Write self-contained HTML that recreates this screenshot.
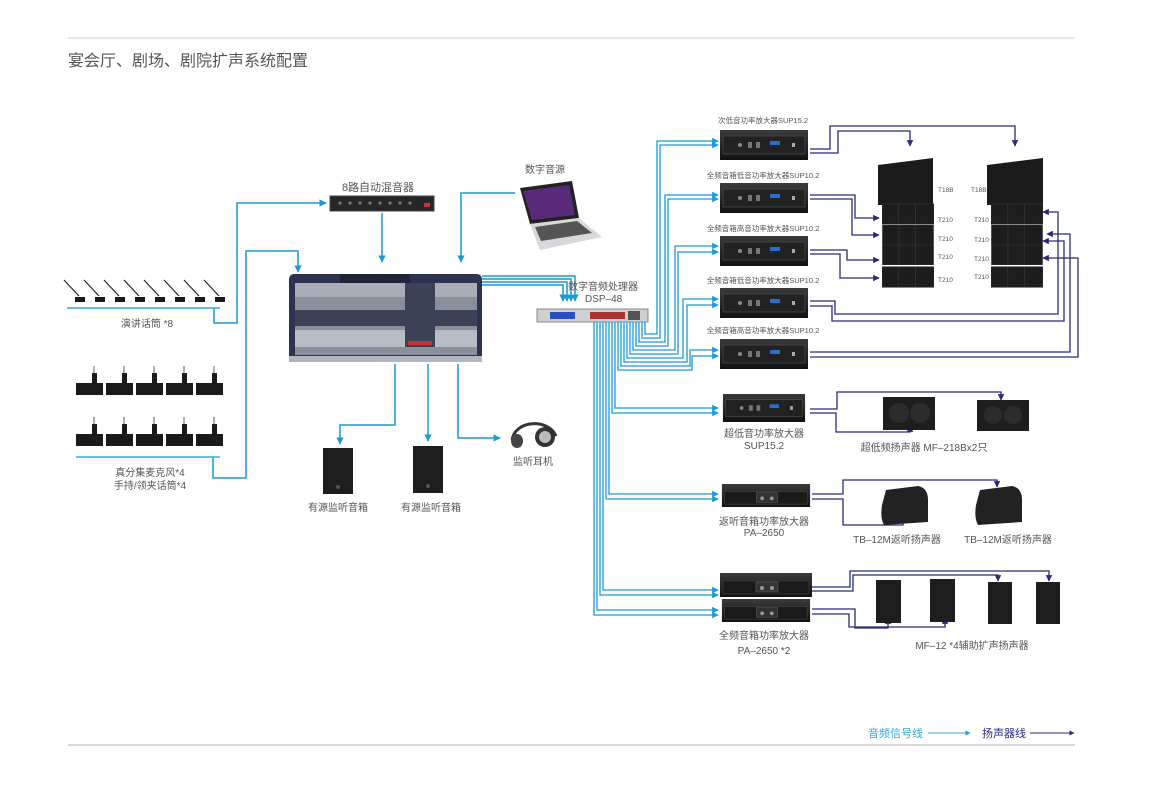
<!DOCTYPE html>
<html><head><meta charset="utf-8"><style>
html,body{margin:0;padding:0;background:#fff;}
svg{display:block;}
text{font-family:"Liberation Sans","Noto Sans CJK SC",sans-serif;fill:#555;}
</style></head><body>
<svg width="1150" height="787" viewBox="0 0 1150 787" xmlns="http://www.w3.org/2000/svg">
<defs>
<marker id="b" viewBox="0 0 10 10" refX="9" refY="5" markerWidth="5" markerHeight="5" orient="auto"><path d="M0,0L10,5L0,10z" fill="#1a9ad6"/></marker>
<marker id="d" viewBox="0 0 10 10" refX="9" refY="5" markerWidth="5" markerHeight="5" orient="auto"><path d="M0,0L10,5L0,10z" fill="#2b2a78"/></marker>
<linearGradient id="ag" x1="0" y1="0" x2="0" y2="1"><stop offset="0" stop-color="#3a3a3a"/><stop offset="1" stop-color="#111"/></linearGradient>
<symbol id="amp" viewBox="0 0 88 30"><rect x="0" y="0" width="88" height="30" fill="url(#ag)"/><rect x="3" y="6" width="82" height="18" fill="#222" stroke="#555" stroke-width="0.6"/><circle cx="20" cy="15" r="2" fill="#888"/><rect x="28" y="12" width="4" height="6" fill="#777"/><rect x="36" y="12" width="4" height="6" fill="#777"/><rect x="50" y="11" width="10" height="4" fill="#2a6fd0"/><rect x="72" y="13" width="3" height="4" fill="#aaa"/></symbol>
<symbol id="amp2" viewBox="0 0 92 24"><rect x="0" y="0" width="92" height="24" fill="url(#ag)"/><rect x="3" y="8" width="86" height="13" fill="#1a1a1a" stroke="#444" stroke-width="0.6"/><rect x="36" y="9" width="22" height="10" fill="#333" stroke="#666" stroke-width="0.5"/><circle cx="42" cy="15" r="2" fill="#999"/><circle cx="52" cy="15" r="2" fill="#999"/></symbol>
<symbol id="la" viewBox="0 0 56 22"><rect x="0" y="0" width="56" height="22" fill="#1d1d1d" stroke="#333" stroke-width="0.8"/><line x1="18" y1="0" x2="18" y2="22" stroke="#333"/><line x1="36" y1="0" x2="36" y2="22" stroke="#333"/></symbol>
</defs>

<line x1="68" y1="38" x2="1075" y2="38" stroke="#ccc" stroke-width="1"/>
<text x="68" y="66" font-size="16" fill="#555">宴会厅、剧场、剧院扩声系统配置</text>
<line x1="68" y1="745" x2="1075" y2="745" stroke="#ccc" stroke-width="1.5"/>
<text x="868" y="737" font-size="11" style="fill:#36a9e1">音频信号线</text>
<line x1="928" y1="733" x2="970" y2="733" stroke="#36a9e1" stroke-width="1" marker-end="url(#b)"/>
<text x="982" y="737" font-size="11" style="fill:#2b2a78">扬声器线</text>
<line x1="1030" y1="733" x2="1074" y2="733" stroke="#2b2a78" stroke-width="1" marker-end="url(#d)"/>

<g stroke="#222" stroke-width="1.2">
<line x1="64" y1="280" x2="79" y2="296"/><line x1="84" y1="280" x2="99" y2="296"/><line x1="104" y1="280" x2="119" y2="296"/><line x1="124" y1="280" x2="139" y2="296"/><line x1="144" y1="280" x2="159" y2="296"/><line x1="164" y1="280" x2="179" y2="296"/><line x1="184" y1="280" x2="199" y2="296"/><line x1="204" y1="280" x2="219" y2="296"/>
</g>
<g fill="#1a1a1a"><rect x="75" y="297" width="10" height="5"/><rect x="95" y="297" width="10" height="5"/><rect x="115" y="297" width="10" height="5"/><rect x="135" y="297" width="10" height="5"/><rect x="155" y="297" width="10" height="5"/><rect x="175" y="297" width="10" height="5"/><rect x="195" y="297" width="10" height="5"/><rect x="215" y="297" width="10" height="5"/></g>
<line x1="67" y1="308" x2="220" y2="308" stroke="#36a9e1" stroke-width="1.5"/>
<text x="147" y="327" font-size="10" text-anchor="middle">演讲话筒  *8</text>
<path d="M214,308V323H237V203H326" fill="none" stroke="#1a9ad6" stroke-width="1.5" marker-end="url(#b)"/>

<g fill="#1a1a1a">
<rect x="76" y="383" width="27" height="12"/><rect x="106" y="383" width="27" height="12"/><rect x="136" y="383" width="27" height="12"/><rect x="166" y="383" width="27" height="12"/><rect x="196" y="383" width="27" height="12"/>
<rect x="76" y="434" width="27" height="12"/><rect x="106" y="434" width="27" height="12"/><rect x="136" y="434" width="27" height="12"/><rect x="166" y="434" width="27" height="12"/><rect x="196" y="434" width="27" height="12"/>
<rect x="92" y="373" width="5" height="12"/><rect x="122" y="373" width="5" height="12"/><rect x="152" y="373" width="5" height="12"/><rect x="182" y="373" width="5" height="12"/><rect x="212" y="373" width="5" height="12"/>
<rect x="92" y="424" width="5" height="12"/><rect x="122" y="424" width="5" height="12"/><rect x="152" y="424" width="5" height="12"/><rect x="182" y="424" width="5" height="12"/><rect x="212" y="424" width="5" height="12"/>
</g>
<g stroke="#333" stroke-width="0.8"><line x1="94" y1="366" x2="94" y2="375"/><line x1="124" y1="366" x2="124" y2="375"/><line x1="154" y1="366" x2="154" y2="375"/><line x1="184" y1="366" x2="184" y2="375"/><line x1="214" y1="366" x2="214" y2="375"/><line x1="94" y1="417" x2="94" y2="426"/><line x1="124" y1="417" x2="124" y2="426"/><line x1="154" y1="417" x2="154" y2="426"/><line x1="184" y1="417" x2="184" y2="426"/><line x1="214" y1="417" x2="214" y2="426"/></g>
<line x1="76" y1="457" x2="220" y2="457" stroke="#36a9e1" stroke-width="1.5"/>
<text x="150" y="476" font-size="10" text-anchor="middle">真分集麦克风*4</text>
<text x="150" y="489" font-size="10" text-anchor="middle">手持/领夹话筒*4</text>
<path d="M213,457V478H246V251H298V272" fill="none" stroke="#1a9ad6" stroke-width="1.5" marker-end="url(#b)"/>

<text x="378" y="191" font-size="11" text-anchor="middle">8路自动混音器</text>
<rect x="330" y="196" width="104" height="15" fill="#262626" stroke="#444"/>
<g fill="#777"><circle cx="340" cy="203" r="1.6"/><circle cx="350" cy="203" r="1.6"/><circle cx="360" cy="203" r="1.6"/><circle cx="370" cy="203" r="1.6"/><circle cx="380" cy="203" r="1.6"/><circle cx="390" cy="203" r="1.6"/><circle cx="400" cy="203" r="1.6"/><circle cx="410" cy="203" r="1.6"/></g>
<rect x="424" y="203" width="6" height="4" fill="#c33"/>
<line x1="382" y1="213" x2="382" y2="262" stroke="#1a9ad6" stroke-width="1.5" marker-end="url(#b)"/>

<text x="545" y="173" font-size="10" text-anchor="middle">数字音源</text>
<polygon points="520,188 572,181 579,218 530,224" fill="#222"/>
<polygon points="523,191 569,185 575,215 532,220" fill="#5a2a7a"/>
<polygon points="530,224 579,218 602,237 540,250" fill="#d8d8dc"/>
<polygon points="535,227 577,221 592,233 541,241" fill="#555"/>
<path d="M515,193H461V262" fill="none" stroke="#1a9ad6" stroke-width="1.5" marker-end="url(#b)"/>

<rect x="289" y="274" width="193" height="88" rx="5" fill="#2b3350"/>
<rect x="295" y="283" width="182" height="72" fill="#8a8f9c"/>
<rect x="295" y="283" width="182" height="14" fill="#a9adb7"/>
<rect x="295" y="310" width="182" height="16" fill="#3b4258"/>
<rect x="295" y="330" width="182" height="17" fill="#b8bcc4"/>
<rect x="405" y="283" width="30" height="64" fill="#3b4258"/>
<rect x="408" y="341" width="24" height="4" fill="#c33"/>
<rect x="340" y="274" width="70" height="9" fill="#1f2438"/>
<rect x="289" y="356" width="193" height="6" fill="#b0b5bf"/>
<g stroke="#1a9ad6" stroke-width="1.5" fill="none">
<path d="M482,276H575V301" marker-end="url(#b)"/><path d="M482,279H571V301" marker-end="url(#b)"/><path d="M482,282H567V301" marker-end="url(#b)"/><path d="M482,285H563V301" marker-end="url(#b)"/>
</g>
<g stroke="#1a9ad6" stroke-width="1.5" fill="none">
<path d="M395,364V425H340V444" marker-end="url(#b)"/>
<path d="M428,364V441" marker-end="url(#b)"/>
<path d="M458,364V438H500" marker-end="url(#b)"/>
</g>
<rect x="323" y="448" width="30" height="46" fill="#1e1e1e"/><circle cx="338" cy="487" r="2" fill="#555"/>
<rect x="413" y="446" width="30" height="47" fill="#1e1e1e"/><circle cx="428" cy="486" r="2" fill="#555"/>
<text x="338" y="511" font-size="10" text-anchor="middle">有源监听音箱</text>
<text x="431" y="511" font-size="10" text-anchor="middle">有源监听音箱</text>
<path d="M512,440C515,420 548,418 556,436" fill="none" stroke="#333" stroke-width="3"/>
<circle cx="545" cy="437" r="10" fill="#333"/><circle cx="545" cy="437" r="6" fill="#bbb"/><ellipse cx="517" cy="441" rx="6" ry="7" fill="#444"/>
<text x="533" y="465" font-size="10" text-anchor="middle">监听耳机</text>

<text x="568" y="290" font-size="10">数字音频处理器</text>
<text x="585" y="302" font-size="10">DSP–48</text>
<rect x="537" y="309" width="111" height="13" fill="#d0d0d0" stroke="#888"/>
<rect x="550" y="312" width="25" height="7" fill="#2a50c0"/>
<rect x="590" y="312" width="35" height="7" fill="#a33"/>
<rect x="628" y="311" width="12" height="9" fill="#555"/>

<g stroke="#1a9ad6" stroke-width="1.3" fill="none">
<path d="M645,322V334H657V141H718" marker-end="url(#b)"/>
<path d="M642,322V338H660V145H718" marker-end="url(#b)"/>
<path d="M639,322V342H665V195H718" marker-end="url(#b)"/>
<path d="M636,322V346H668V199H718" marker-end="url(#b)"/>
<path d="M633,322V350H675V246H718" marker-end="url(#b)"/>
<path d="M630,322V354H678V252H718" marker-end="url(#b)"/>
<path d="M627,322V358H683V299H718" marker-end="url(#b)"/>
<path d="M624,322V362H687V305H718" marker-end="url(#b)"/>
<path d="M621,322V366H690V350H718" marker-end="url(#b)"/>
<path d="M618,322V370H692V356H718" marker-end="url(#b)"/>
<path d="M615,322V408H718" marker-end="url(#b)"/>
<path d="M612,322V413H718" marker-end="url(#b)"/>
<path d="M609,322V494H718" marker-end="url(#b)"/>
<path d="M606,322V499H718" marker-end="url(#b)"/>
<path d="M603,322V590H718" marker-end="url(#b)"/>
<path d="M600,322V595H718" marker-end="url(#b)"/>
<path d="M597,322V610H718" marker-end="url(#b)"/>
<path d="M594,322V615H718" marker-end="url(#b)"/>
</g>

<g font-size="7.5" text-anchor="middle">
<text x="763" y="123">次低音功率放大器SUP15.2</text>
<text x="763" y="178">全频音箱低音功率放大器SUP10.2</text>
<text x="763" y="231">全频音箱高音功率放大器SUP10.2</text>
<text x="763" y="283">全频音箱低音功率放大器SUP10.2</text>
<text x="763" y="333">全频音箱高音功率放大器SUP10.2</text>
</g>
<use href="#amp" x="720" y="130" width="88" height="30"/>
<use href="#amp" x="720" y="183" width="88" height="30"/>
<use href="#amp" x="720" y="236" width="88" height="30"/>
<use href="#amp" x="720" y="288" width="88" height="30"/>
<use href="#amp" x="720" y="339" width="88" height="30"/>
<use href="#amp" x="720" y="394" width="88" height="28"/>
<use href="#amp2" x="720" y="484" width="92" height="23"/>
<use href="#amp2" x="720" y="573" width="92" height="24"/>
<use href="#amp2" x="720" y="599" width="92" height="23"/>
<g font-size="10" text-anchor="middle">
<text x="764" y="437">超低音功率放大器</text><text x="764" y="449">SUP15.2</text>
<text x="764" y="525">返听音箱功率放大器</text><text x="764" y="536">PA–2650</text>
<text x="764" y="639">全频音箱功率放大器</text><text x="764" y="654">PA–2650 *2</text>
<text x="924" y="451">超低频扬声器 MF–218Bx2只</text>
<text x="897" y="543">TB–12M返听扬声器</text>
<text x="1008" y="543">TB–12M返听扬声器</text>
<text x="972" y="649">MF–12 *4辅助扩声扬声器</text>
</g>

<polygon points="878,165 933,158 933,205 878,205" fill="#1b1b1b"/>
<use href="#la" x="882" y="203" width="52" height="22"/>
<use href="#la" x="882" y="225" width="52" height="20"/>
<use href="#la" x="882" y="245" width="52" height="20"/>
<use href="#la" x="882" y="265" width="52" height="24"/>
<polygon points="987,165 1043,158 1043,205 987,205" fill="#1b1b1b"/>
<use href="#la" x="991" y="203" width="52" height="22"/>
<use href="#la" x="991" y="225" width="52" height="20"/>
<use href="#la" x="991" y="245" width="52" height="20"/>
<use href="#la" x="991" y="265" width="52" height="24"/>
<g font-size="6.5" style="fill:#222">
<text x="938" y="192">T18B</text><text x="938" y="222">T210</text><text x="938" y="241">T210</text><text x="938" y="259">T210</text><text x="938" y="282">T210</text>
<text x="971" y="192">T18B</text><text x="974" y="222">T210</text><text x="974" y="242">T210</text><text x="974" y="261">T210</text><text x="974" y="279">T210</text>
</g>

<g stroke="#2b2a78" stroke-width="1.3" fill="none">
<path d="M810,149H830V126H1015V146" marker-end="url(#d)"/>
<path d="M810,153H838V131H910V146" marker-end="url(#d)"/>
<path d="M810,195H855V218H879" marker-end="url(#d)"/>
<path d="M810,199H852V235H879" marker-end="url(#d)"/>
<path d="M810,250H847V260H879" marker-end="url(#d)"/>
<path d="M810,254H840V278H879" marker-end="url(#d)"/>
<path d="M810,301H835V314H1058V212H1043" marker-end="url(#d)"/>
<path d="M810,306H832V321H1064V241H1043" marker-end="url(#d)"/>
<path d="M810,352H1070V234H1047" marker-end="url(#d)"/>
<path d="M810,357H1078V258H1043" marker-end="url(#d)"/>
<path d="M810,409H837V392H1001V400" marker-end="url(#d)"/>
<path d="M810,413H836V432H910V426" marker-end="url(#d)"/>
<path d="M812,494H843V480H997V487" marker-end="url(#d)"/>
<path d="M812,499H843V525H903V517" marker-end="url(#d)"/>
<path d="M812,587H850V571H1049V581" marker-end="url(#d)"/>
<path d="M812,591H853V575H998V581" marker-end="url(#d)"/>
<path d="M812,609H855V628H888V618" marker-end="url(#d)"/>
<path d="M812,614H849V627H945V618" marker-end="url(#d)"/>
</g>

<rect x="883" y="397" width="52" height="33" fill="#1e1e1e"/><circle cx="899" cy="413" r="10" fill="#2c2c2c"/><circle cx="920" cy="413" r="10" fill="#2c2c2c"/>
<rect x="977" y="400" width="52" height="31" fill="#1e1e1e"/><circle cx="993" cy="415" r="9" fill="#2c2c2c"/><circle cx="1013" cy="415" r="9" fill="#2c2c2c"/>
<path d="M886,490L918,486Q928,488 928,500V522L884,525Q880,518 882,505Z" fill="#222"/>
<path d="M980,490L1012,486Q1022,488 1022,500V522L978,525Q974,518 976,505Z" fill="#222"/>
<rect x="876" y="580" width="25" height="43" fill="#1e1e1e"/>
<rect x="930" y="579" width="25" height="43" fill="#1e1e1e"/>
<rect x="988" y="582" width="24" height="42" fill="#1e1e1e"/>
<rect x="1036" y="582" width="24" height="42" fill="#1e1e1e"/>
</svg>
</body></html>
